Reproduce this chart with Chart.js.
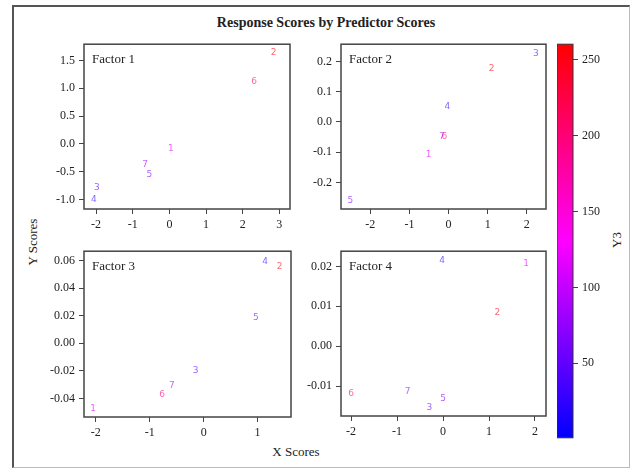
<!DOCTYPE html>
<html>
<head>
<meta charset="utf-8">
<script src="https://cdn.jsdelivr.net/npm/chart.js@4"></script>
<style>
  body { margin: 0; background: #fff; }
  #wrap { position: relative; width: 633px; height: 470px; overflow: hidden; background: #fff; }
  #wrap canvas { position: absolute; }
  .frame { position: absolute; left: 12px; top: 5px; width: 618px; height: 463px;
           border-top: 2px solid #555; border-left: 2px solid #555;
           border-right: 1px solid #bbb; border-bottom: 1px solid #bbb; box-sizing: border-box; }
  .txt { position: absolute; font-family: "Liberation Serif", "DejaVu Serif", serif; color: #222; white-space: nowrap; }
</style>
</head>
<body>
<div id="wrap">
  <div class="frame"></div>
  <div class="txt" style="left:326px; top:23px; transform:translate(-50%,-50%); font-size:14px; font-weight:bold;">Response Scores by Predictor Scores</div>
  <div class="txt" style="left:33px; top:242px; transform:translate(-50%,-50%) rotate(-90deg); font-size:13px;">Y Scores</div>
  <div class="txt" style="left:296px; top:452px; transform:translate(-50%,-50%); font-size:13px;">X Scores</div>
  <div class="txt" style="left:617px; top:240px; transform:translate(-50%,-50%) rotate(-90deg); font-size:13px;">Y3</div>
  <canvas id="p1"></canvas>
  <canvas id="p2"></canvas>
  <canvas id="p3"></canvas>
  <canvas id="p4"></canvas>
  <canvas id="cbar"></canvas>
</div>
<script>
// observations and their colour variable
const obsLabels = ['1', '2', '3', '4', '5', '6', '7'];
const y3Values = [115, 250, 45, 25, 65, 200, 80];
const y3Min = 1, y3Max = 260;
const y3Ticks = [50, 100, 150, 200, 250];

// scores per factor (obs 1..7)
const factor1X = [0.04, 2.84, -1.98, -2.06, -0.55, 2.31, -0.66];
const factor1Y = [-0.09, 1.63, -0.79, -1.00, -0.55, 1.12, -0.37];
const factor2X = [-0.51, 1.10, 2.23, -0.03, -2.51, -0.11, -0.17];
const factor2Y = [-0.107, 0.177, 0.227, 0.051, -0.262, -0.050, -0.048];
const factor3X = [-2.05, 1.41, -0.15, 1.14, 0.97, -0.77, -0.59];
const factor3Y = [-0.047, 0.0553, -0.020, 0.0593, 0.0188, -0.0370, -0.0306];
const factor4X = [1.81, 1.18, -0.30, -0.02, 0.00, -2.00, -0.77];
const factor4Y = [0.0206, 0.0085, -0.0154, 0.0215, -0.0132, -0.0119, -0.0113];

// tick values
const xTicks1 = [-2, -1, 0, 1, 2, 3];
const yTicks1 = [-1.0, -0.5, 0.0, 0.5, 1.0, 1.5];
const xTicks2 = [-2, -1, 0, 1, 2];
const yTicks2 = [-0.2, -0.1, 0.0, 0.1, 0.2];
const xTicks3 = [-2, -1, 0, 1];
const yTicks3 = [-0.04, -0.02, 0.00, 0.02, 0.04, 0.06];
const xTicks4 = [-2, -1, 0, 1, 2];
const yTicks4 = [-0.01, 0.00, 0.01, 0.02];

const YW = 50, XH = 26, PAD = 6;
const tickFont = { family: '"Liberation Serif", serif', size: 12 };

// blue -> magenta -> red
function y3Color(v, a) {
  const t = Math.max(0, Math.min(1, (v - y3Min) / (y3Max - y3Min)));
  let r, b;
  if (t < 0.5) { r = 255 * t * 2; b = 255; } else { r = 255; b = 255 * (1 - t) * 2; }
  return 'rgba(' + Math.round(r) + ',0,' + Math.round(b) + ',' + a + ')';
}

const panelPlugin = {
  id: 'panelDecor',
  afterDatasetsDraw(chart, args, opts) {
    const ctx = chart.ctx;
    const a = chart.chartArea;
    const meta = chart.getDatasetMeta(0);
    ctx.save();
    ctx.font = '9px "DejaVu Sans", sans-serif';
    ctx.textAlign = 'center';
    ctx.textBaseline = 'middle';
    meta.data.forEach((el, i) => {
      ctx.fillStyle = y3Color(y3Values[i], 0.62);
      ctx.fillText(obsLabels[i], el.x, el.y);
    });
    ctx.strokeStyle = '#444';
    ctx.lineWidth = 1.5;
    ctx.strokeRect(a.left, a.top, a.right - a.left, a.bottom - a.top);
    ctx.fillStyle = '#222';
    ctx.font = '13px "Liberation Serif", serif';
    ctx.textAlign = 'left';
    ctx.fillText(opts.title, a.left + 8, a.top + 15);
    ctx.restore();
  }
};

function makeAxis(min, max, ticks, dec, isX) {
  return {
    type: 'linear', min: min, max: max,
    afterBuildTicks: s => { s.ticks = ticks.map(v => ({ value: v })); },
    afterFit: s => { if (isX) s.height = XH; else s.width = YW; },
    border: { display: false },
    grid: { display: true, drawOnChartArea: false, drawTicks: true, tickLength: 5, color: '#444', lineWidth: 1 },
    ticks: { font: tickFont, color: '#222', padding: 4, maxRotation: 0, autoSkip: false,
             callback: v => Number(v).toFixed(dec) }
  };
}

function makePanel(id, box, title, xs, ys, xr, yr, xt, yt, ydec) {
  const cv = document.getElementById(id);
  const w = box[2] - box[0] + YW + PAD, h = box[3] - box[1] + PAD + XH;
  cv.width = w; cv.height = h;
  cv.style.left = (box[0] - YW) + 'px';
  cv.style.top = (box[1] - PAD) + 'px';
  cv.style.width = w + 'px'; cv.style.height = h + 'px';
  return new Chart(cv, {
    type: 'scatter',
    data: { datasets: [{ data: xs.map((x, i) => ({ x: x, y: ys[i] })), pointRadius: 0, pointHoverRadius: 0 }] },
    options: {
      responsive: false, animation: false,
      layout: { padding: { top: PAD, right: PAD, left: 0, bottom: 0 } },
      plugins: { legend: { display: false }, tooltip: { enabled: false }, panelDecor: { title: title } },
      scales: {
        x: makeAxis(xr[0], xr[1], xt, 0, true),
        y: makeAxis(yr[0], yr[1], yt, ydec, false)
      }
    },
    plugins: [panelPlugin]
  });
}

makePanel('p1', [84, 39, 290, 209], 'Factor 1', factor1X, factor1Y, [-2.33, 3.29], [-1.17, 1.79], xTicks1, yTicks1, 1);
makePanel('p2', [341, 39, 546, 209], 'Factor 2', factor2X, factor2Y, [-2.75, 2.49], [-0.288, 0.257], xTicks2, yTicks2, 1);
makePanel('p3', [84, 246, 291, 417], 'Factor 3', factor3X, factor3Y, [-2.22, 1.62], [-0.0534, 0.0668], xTicks3, yTicks3, 2);
makePanel('p4', [341, 246, 546, 416], 'Factor 4', factor4X, factor4Y, [-2.22, 2.24], [-0.0175, 0.0238], xTicks4, yTicks4, 2);

// colour bar
const barPlugin = {
  id: 'barFill',
  beforeDatasetsDraw(chart) {
    const ctx = chart.ctx, a = chart.chartArea;
    const g = ctx.createLinearGradient(0, a.bottom, 0, a.top);
    g.addColorStop(0, y3Color(y3Min, 1));
    g.addColorStop(0.5, y3Color((y3Min + y3Max) / 2, 1));
    g.addColorStop(1, y3Color(y3Max, 1));
    ctx.save();
    ctx.fillStyle = g;
    ctx.fillRect(a.left, a.top, a.right - a.left, a.bottom - a.top);
    ctx.strokeStyle = '#333';
    ctx.lineWidth = 1;
    ctx.strokeRect(a.left, a.top, a.right - a.left, a.bottom - a.top);
    ctx.restore();
  }
};
(function () {
  const cv = document.getElementById('cbar');
  const w = 16 + YW, h = 404 + PAD * 2;
  cv.width = w; cv.height = h;
  cv.style.left = '557px'; cv.style.top = (39 - PAD) + 'px';
  cv.style.width = w + 'px'; cv.style.height = h + 'px';
  const yAxis = makeAxis(y3Min, y3Max, y3Ticks, 0, false);
  yAxis.position = 'right';
  new Chart(cv, {
    type: 'scatter',
    data: { datasets: [{ data: [] }] },
    options: {
      responsive: false, animation: false,
      layout: { padding: { top: PAD, bottom: PAD, left: 0, right: 0 } },
      plugins: { legend: { display: false }, tooltip: { enabled: false } },
      scales: { x: { display: false, min: 0, max: 1 }, y: yAxis }
    },
    plugins: [barPlugin]
  });
})();
</script>
</body>
</html>
